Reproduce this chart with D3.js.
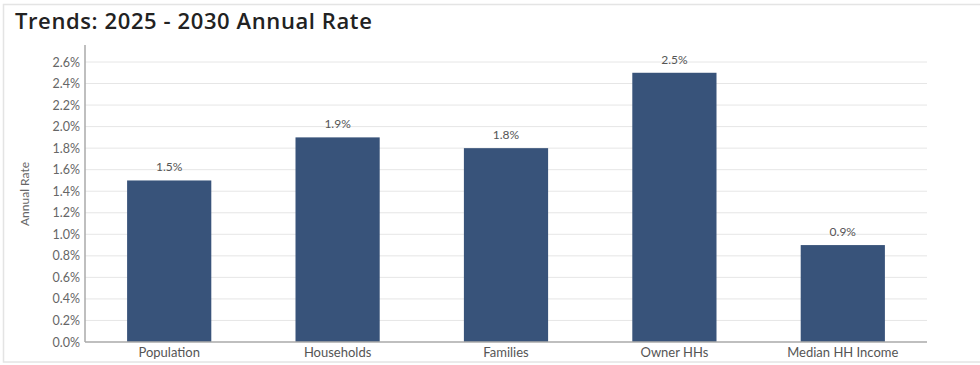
<!DOCTYPE html>
<html><head><meta charset="utf-8">
<script src="https://cdn.jsdelivr.net/npm/d3@7"></script>
<style>
html,body{margin:0;padding:0;background:#fff;}
svg{display:block;}
</style></head>
<body><svg id="chart" width="980" height="365"></svg>
<script>
const title = "Trends: 2025 - 2030 Annual Rate";
const categories = ["Population", "Households", "Families", "Owner HHs", "Median HH Income"];
const values = [1.5, 1.9, 1.8, 2.5, 0.9];
const yTicks = [0,0.2,0.4,0.6,0.8,1.0,1.2,1.4,1.6,1.8,2.0,2.2,2.4,2.6];
const yTitle = "Annual Rate";

const svg = d3.select("#chart");
const W = 980, H = 365;
const m = {left:85, right:53, top:62, bottom:23};
const x0 = m.left, x1 = W - m.right, yBottom = H - m.bottom;

// card border
svg.append("rect").attr("x",3.5).attr("y",4.5).attr("width",990).attr("height",357.5)
  .attr("fill","none").attr("stroke","#e4e4e4").attr("stroke-width",1.5);

svg.append("text").attr("x",15).attr("y",29).text(title)
  .attr("font-family","'Open Sans', Lato, sans-serif").attr("font-weight",600)
  .attr("font-size",22).attr("letter-spacing","0.6px").attr("fill","#222");

const x = d3.scaleBand().domain(categories).range([x0, x1]).paddingInner(0.5).paddingOuter(0.25);
const y = d3.scaleLinear().domain([0, 2.6]).range([yBottom, m.top]);

// gridlines
svg.append("g").selectAll("line").data(yTicks.filter(d=>d>0)).join("line")
  .attr("x1",x0).attr("x2",x1).attr("y1",d=>y(d)).attr("y2",d=>y(d))
  .attr("stroke","#e6e6e6").attr("stroke-width",1);

// y axis
const yAxis = svg.append("g").attr("transform",`translate(${x0},0)`)
  .call(d3.axisLeft(y).tickValues(yTicks).tickFormat(d=>d.toFixed(1)+"%").tickSize(0).tickPadding(5));
yAxis.select(".domain").remove();
yAxis.selectAll("text").attr("font-family","Lato, sans-serif").attr("font-size",12.5).attr("fill","#666");
svg.append("line").attr("x1",x0).attr("x2",x0).attr("y1",45).attr("y2",yBottom)
  .attr("stroke","#aaa").attr("stroke-width",1.5);

// bars
svg.append("g").selectAll("rect").data(values).join("rect")
  .attr("x",(d,i)=>x(categories[i])).attr("width",x.bandwidth())
  .attr("y",d=>y(d)).attr("height",d=>yBottom-y(d)).attr("fill","#38537a");

// value labels
svg.append("g").selectAll("text").data(values).join("text")
  .attr("x",(d,i)=>x(categories[i])+x.bandwidth()/2).attr("y",d=>y(d)-9)
  .attr("text-anchor","middle").attr("font-family","Lato, sans-serif").attr("font-size",12)
  .attr("fill","#555").text(d=>d.toFixed(1)+"%");

// x axis
const xAxis = svg.append("g").attr("transform",`translate(0,${yBottom})`)
  .call(d3.axisBottom(x).tickSize(0).tickPadding(6));
xAxis.select(".domain").remove();
xAxis.selectAll("text").attr("font-family","Lato, sans-serif").attr("font-size",13).attr("fill","#555");
svg.append("line").attr("x1",x0).attr("x2",x1).attr("y1",yBottom).attr("y2",yBottom)
  .attr("stroke","#aaa").attr("stroke-width",1.5);

// y title
svg.append("text").attr("transform",`translate(29,194) rotate(-90)`)
  .attr("text-anchor","middle").attr("font-family","Lato, sans-serif").attr("font-size",12)
  .attr("fill","#666").text(yTitle);
</script></body></html>
